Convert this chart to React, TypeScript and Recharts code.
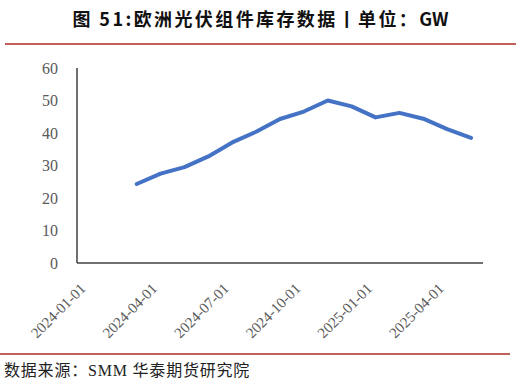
import { LineChart, Line, XAxis, YAxis } from 'recharts';

// monthly inventory, GW (month index counted from 2024-01)
const months = ['2024-03', '2024-04', '2024-05', '2024-06', '2024-07', '2024-08', '2024-09', '2024-10', '2024-11', '2024-12', '2025-01', '2025-02', '2025-03', '2025-04', '2025-05'];
const inventory = [24.3, 27.5, 29.5, 32.8, 37.1, 40.4, 44.3, 46.6, 50.0, 48.2, 44.8, 46.2, 44.4, 41.2, 38.5];
const tickLabels = ['2024-01-01', '2024-04-01', '2024-07-01', '2024-10-01', '2025-01-01', '2025-04-01'];
const yTicks = [0, 10, 20, 30, 40, 50, 60];

const monthIndex = (m: string) => {
  const [y, mo] = m.split('-').map(Number);
  return (y - 2024) * 12 + (mo - 1);
};

// points sit in the middle of their month, like Excel's date axis
const data = months.map((m, i) => ({ x: monthIndex(m) + 0.5, v: inventory[i] }));
const xTicks = tickLabels.map((t) => monthIndex(t.slice(0, 7)));

const serif = '"Liberation Serif", "Times New Roman", "Noto Sans CJK SC", serif';

function DateTick(props: any) {
  const { x, y, payload } = props;
  const label = tickLabels[xTicks.indexOf(payload.value)] ?? '';
  const ax = x + 6;
  const ay = y + 15;
  return (
    <text
      x={ax}
      y={ay}
      textAnchor="end"
      dominantBaseline="central"
      transform={`rotate(-45, ${ax}, ${ay})`}
      fill="#595959"
      fontSize={15}
      fontFamily={serif}
    >
      {label}
    </text>
  );
}

export default function App() {
  return (
    <div style={{ position: 'absolute', left: 0, top: 0, width: 521, height: 383, background: '#fff' }}>
      <div
        style={{
          position: 'absolute', left: 0, top: 6, width: 521, textAlign: 'center',
          fontFamily: '"Noto Sans CJK SC", sans-serif', fontWeight: 700, fontSize: 18,
          color: '#111', lineHeight: '24px', whiteSpace: 'nowrap',
        }}
      >
        <span style={{ letterSpacing: 2.4 }}>图 51:欧洲光伏组件库存数据丨单位：</span>
        <span>GW</span>
      </div>
      <div style={{ position: 'absolute', left: 5, top: 43, width: 511, height: 2, background: '#C0605C' }} />

      <div style={{ position: 'absolute', left: 0, top: 0 }}>
        <LineChart width={521} height={383} data={data} margin={{ top: 68, right: 38, bottom: 60, left: 37 }}>
          <XAxis
            dataKey="x"
            type="number"
            domain={[0, 17]}
            ticks={xTicks}
            interval={0}
            height={60}
            tickLine={false}
            tick={<DateTick />}
            axisLine={{ stroke: '#404040', strokeWidth: 1.5 }}
          />
          <YAxis
            domain={[0, 60]}
            ticks={yTicks}
            width={40}
            tickLine={false}
            tickMargin={13}
            axisLine={{ stroke: '#404040', strokeWidth: 1.5 }}
            tick={{ fill: '#595959', fontSize: 16, fontFamily: serif }}
          />
          <Line
            dataKey="v"
            type="linear"
            stroke="#4472C4"
            strokeWidth={4}
            strokeLinecap="round"
            strokeLinejoin="round"
            dot={false}
            isAnimationActive={false}
          />
        </LineChart>
      </div>

      <div style={{ position: 'absolute', left: 0, top: 353, width: 510, height: 2, background: '#C0605C' }} />
      <div
        style={{
          position: 'absolute', left: 4, top: 361, fontFamily: serif, fontSize: 16,
          letterSpacing: 0.8, color: '#222', lineHeight: '20px', whiteSpace: 'nowrap',
        }}
      >
        数据来源：SMM 华泰期货研究院
      </div>
    </div>
  );
}
